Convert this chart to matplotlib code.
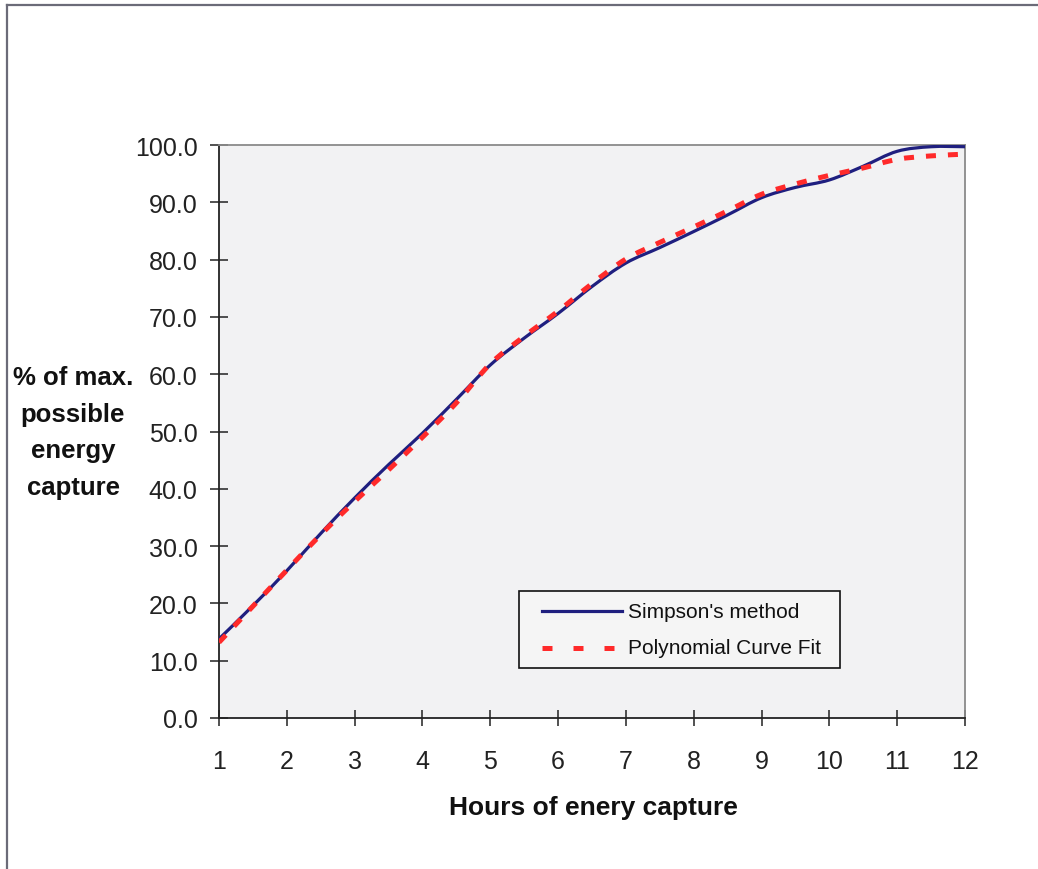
import numpy as np
import matplotlib
matplotlib.use("Agg")
import matplotlib.pyplot as plt
from matplotlib.lines import Line2D
from matplotlib.path import Path
from matplotlib.patches import PathPatch, Rectangle

plt.rcParams['font.family'] = ['Liberation Sans', 'DejaVu Sans']

# hours of capture, read at half-hour steps
hours = [1.0, 1.5, 2.0, 2.5, 3.0, 3.5, 4.0, 4.5, 5.0, 5.5, 6.0, 6.5,
         7.0, 7.5, 8.0, 8.5, 9.0, 9.5, 10.0, 10.5, 11.0, 11.5, 12.0]

simpson = [13.8, 19.6, 25.7, 32.2, 38.4, 44.2, 49.7, 55.6, 61.6, 66.3, 70.6, 75.3,
           79.4, 82.1, 84.9, 87.8, 90.8, 92.6, 93.9, 96.3, 98.9, 99.7, 99.7]

poly_fit = [13.2, 19.5, 25.8, 32.0, 37.8, 43.3, 49.0, 55.0, 61.8, 66.6, 71.0, 75.8,
            80.1, 83.0, 85.7, 88.5, 91.4, 93.2, 94.7, 96.0, 97.5, 98.1, 98.4]

series_names = ["Simpson's method", 'Polynomial Curve Fit']
x_ticks = list(range(1, 13))
y_ticks = [0, 10, 20, 30, 40, 50, 60, 70, 80, 90, 100]


def smooth_path(xs, ys):
    # Excel-style smoothed line: Catmull-Rom segments as cubic Beziers
    p = np.column_stack([xs, ys]).astype(float)
    n = len(p)
    verts = [p[0]]
    codes = [Path.MOVETO]
    for i in range(n - 1):
        p0 = p[max(i - 1, 0)]
        p1 = p[i]
        p2 = p[i + 1]
        p3 = p[min(i + 2, n - 1)]
        c1 = p1 + (p2 - p0) / 6.0
        c2 = p2 - (p3 - p1) / 6.0
        verts += [c1, c2, p2]
        codes += [Path.CURVE4] * 3
    return Path(verts, codes)


W, H = 1038, 870
fig = plt.figure(figsize=(W / 100, H / 100), dpi=100)
fig.patch.set_facecolor('white')

ax = fig.add_axes([219 / W, 1 - 719 / H, (965 - 219) / W, (719 - 146) / H])
ax.set_facecolor('#f2f2f3')

blue = '#1f1f7f'
red = '#ff2a2a'
red_ls = (0, (2.0, 2.4))

ax.add_patch(PathPatch(smooth_path(hours, simpson), fill=False, edgecolor=blue,
                       lw=2.3, joinstyle='round', zorder=3))
ax.add_patch(PathPatch(smooth_path(hours, poly_fit), fill=False, edgecolor=red,
                       lw=3.6, ls=red_ls, zorder=4))

ax.set_xlim(1, 12)
ax.set_ylim(0, 100)
ax.set_xticks(x_ticks)
ax.set_yticks(y_ticks)
ax.set_yticklabels([f"{v:.1f}" for v in y_ticks])

for side in ['left', 'bottom']:
    ax.spines[side].set_color('#222222')
    ax.spines[side].set_linewidth(1.3)
for side in ['top', 'right']:
    ax.spines[side].set_color('#8a8a8a')
    ax.spines[side].set_linewidth(1.3)

ax.tick_params(axis='y', direction='inout', length=13, width=1.1, pad=9,
               labelsize=18, colors='#222222')
ax.tick_params(axis='x', direction='inout', length=12, width=1.1, pad=16,
               labelsize=18, colors='#222222')

# legend box, drawn by hand in axes coordinates
tr = ax.transAxes
ax.add_patch(Rectangle((0.402, 0.087), 0.430, 0.135, transform=tr,
                       facecolor='#f5f5f5', edgecolor='#111111', lw=1.2, zorder=5))
ax.add_line(Line2D([0.4330, 0.5402], [0.1867, 0.1867], transform=tr,
                   color=blue, lw=2.3, zorder=6))
ax.add_line(Line2D([0.4330, 0.5402], [0.1222, 0.1222], transform=tr,
                   color=red, lw=3.6, ls=(0, (2.0, 4.2)), zorder=6))
ax.text(0.5483, 0.1867, series_names[0], transform=tr, fontsize=15,
        va='center', ha='left', color='#111111', zorder=6)
ax.text(0.5483, 0.1222, series_names[1], transform=tr, fontsize=15,
        va='center', ha='left', color='#111111', zorder=6)

fig.text(593 / W, 1 - 808 / H, 'Hours of enery capture', ha='center', va='center',
         fontsize=19, fontweight='bold', color='#111111')
fig.text(73 / W, 1 - 433 / H, '% of max.\npossible\nenergy\ncapture', ha='center',
         va='center', multialignment='center', fontsize=18.5, fontweight='bold',
         color='#111111', linespacing=1.68)

# outer chart frame (left and top edges visible)
fig.add_artist(Line2D([7 / W, 7 / W], [0, 1 - 6 / H], transform=fig.transFigure,
                      color='#6b6b78', lw=1.6))
fig.add_artist(Line2D([7 / W, 1], [1 - 6 / H, 1 - 6 / H], transform=fig.transFigure,
                      color='#6b6b78', lw=1.6))

fig.savefig('out.png', dpi=100)
